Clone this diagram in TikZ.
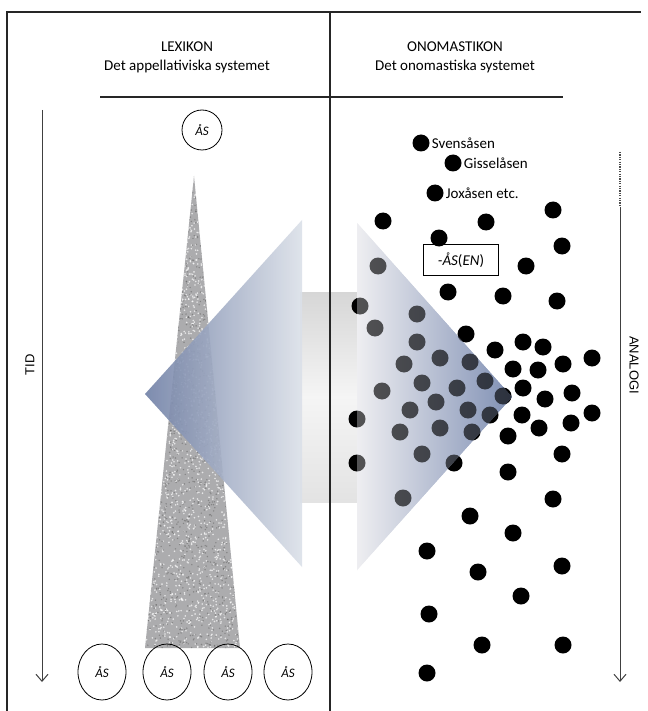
\documentclass[tikz,border=0pt]{standalone}
\usepackage{fontspec}
\setmainfont{Carlito}
\newfontfamily\axisfont{Liberation Sans}
\usetikzlibrary{arrows.meta,shapes.geometric}

\definecolor{headdark}{RGB}{112,128,166}
\definecolor{headlight}{RGB}{220,225,233}
\definecolor{rightlight}{RGB}{238,238,241}
\definecolor{rightdark}{RGB}{128,144,180}
\definecolor{grain}{RGB}{172,172,174}

\tikzset{
  framerule/.style={line width=1.1pt, black!85},
  timeline/.style={line width=1pt, black!75, -{Straight Barb[length=7pt,width=12pt]}},
  headtext/.style={font=\fontsize{15}{17}\selectfont, inner sep=1pt},
  dotnode/.style={circle, fill=black, minimum size=17pt, inner sep=0pt},
  placename/.style={font=\fontsize{15}{17}\selectfont, anchor=west, inner sep=2pt},
  astop/.style={circle, draw, line width=0.8pt, minimum size=40pt, inner sep=0pt,
    font=\itshape\fontsize{13}{15}\selectfont},
  asbottom/.style={ellipse, draw, line width=0.8pt, minimum width=48pt, minimum height=56pt,
    inner sep=0pt, font=\itshape\fontsize{13}{15}\selectfont},
  suffixbox/.style={draw, fill=white, line width=1pt, minimum width=75pt, minimum height=31pt,
    inner sep=0pt, font=\fontsize{15}{17}\selectfont},
  axislabel/.style={font=\axisfont\fontsize{13}{15}\selectfont, inner sep=0pt}
}

% dots of the onomastic field
\def\dotlist{383/221, 486/222, 553/210, 439/238, 562/246, 378/266, 526/266,
  448/292, 503/296, 557/301, 360/306, 417/314, 375/328, 466/334, 417/342,
  523/342, 543/347, 495/350, 592/358, 563/364, 404/364, 440/358, 470/362,
  513/369, 538/370, 422/383, 382/391, 457/388, 485/381, 503/396, 523/388,
  545/399, 572/393, 436/402, 410/410, 468/410, 490/415, 522/415, 592/413,
  357/419, 539/428, 571/423, 400/432, 440/428, 472/432, 508/436, 357/463,
  422/454, 454/463, 562/454, 508/472, 403/498, 553/499, 470/516, 513/533,
  427/551, 478/572, 562/566, 521/596, 429/614, 482/645, 563/645, 427/673}

\begin{document}
\begin{tikzpicture}[x=1pt,y=-1pt]
  \useasboundingbox (0,0) rectangle (647,711);
  \fill[white] (0,0) rectangle (647,711);

  % speckled wedge
  \begin{scope}
    \clip (194,176) -- (240,648) -- (145,648) -- cycle;
    \fill[grain] (140,170) rectangle (245,650);
    \pgfmathsetseed{11}
    \foreach \i in {1,...,2400} {
      \pgfmathsetmacro\gx{140+105*rnd}
      \pgfmathsetmacro\gy{170+480*rnd}
      \fill[white, opacity=0.7] (\gx,\gy) circle[radius=0.9pt];
    }
    \foreach \i in {1,...,1600} {
      \pgfmathsetmacro\gx{140+105*rnd}
      \pgfmathsetmacro\gy{170+480*rnd}
      \fill[black!60, opacity=0.55] (\gx,\gy) circle[radius=0.8pt];
    }
  \end{scope}

  % double arrow
  \shade[top color=gray!32, bottom color=gray!22, middle color=gray!8]
    (300,292) rectangle (358,502);
  \shade[left color=headdark, right color=headlight, opacity=0.9]
    (302,220) -- (145,394) -- (302,567) -- cycle;
  \shade[left color=rightlight, right color=rightdark]
    (357,223) -- (512,397) -- (357,570) -- cycle;

  % frame
  \draw[framerule] (7,711) -- (7,12) -- (641,12);
  \draw[framerule] (330,12) -- (330,711);

  % headings
  \node[headtext] (lexhead) at (187,47) {LEXIKON};
  \node[headtext] (lexsub) at (187,67) {Det appellativiska systemet};
  \node[headtext] (onohead) at (455,47) {ONOMASTIKON};
  \node[headtext] (onosub) at (455,67) {Det onomastiska systemet};
  \coordinate (ruleL) at (100,97);
  \coordinate (ruleR) at (563,97);
  \draw[framerule] (ruleL) -- (ruleR);

  % time axis
  \coordinate (tidtop) at (42,110);
  \coordinate (tidend) at (42,682);
  \draw[timeline] (tidtop) -- (tidend);
  \node[axislabel, rotate=90] (tid) at (30,365) {TID};

  % analogy axis
  \coordinate (anatop) at (620,152);
  \coordinate (anamid) at (620,207);
  \coordinate (anaend) at (620,682);
  \draw[line width=1.3pt, black!70, dash pattern=on 1.2pt off 1.2pt] (anatop) -- (anamid);
  \draw[timeline] (anamid) -- (anaend);
  \node[axislabel, rotate=-90] (analogi) at (634,365) {ANALOGI};

  % appellative
  \node[astop] (as0) at (202,130) {ÅS};
  \node[asbottom] (as1) at (102,672) {ÅS};
  \node[asbottom] (as2) at (167,672) {ÅS};
  \node[asbottom] (as3) at (228,672) {ÅS};
  \node[asbottom] (as4) at (288,672) {ÅS};

  % names
  \node[suffixbox] (asen) at (461,260) {{\itshape -ÅS}({\itshape EN})};
  \node[dotnode] (svens) at (421,143) {};
  \node[dotnode] (gissel) at (453,163) {};
  \node[dotnode] (joxas) at (435,193) {};
  \node[placename] (svenslabel) at (svens.east) {Svensåsen};
  \node[placename] (gissellabel) at (gissel.east) {Gisselåsen};
  \node[placename] (joxaslabel) at (joxas.east) {Joxåsen etc.};

  \foreach \x/\y in \dotlist
    \fill (\x,\y) circle[radius=8.5pt];

  % dots seen through the right head
  \begin{scope}
    \clip (357,223) -- (512,397) -- (357,570) -- cycle;
    \shade[left color=rightlight, right color=rightdark]
      (357,223) -- (512,397) -- (357,570) -- cycle;
    \foreach \x/\y in \dotlist
      \fill[opacity=0.65] (\x,\y) circle[radius=8.5pt];
  \end{scope}
\end{tikzpicture}
\end{document}
